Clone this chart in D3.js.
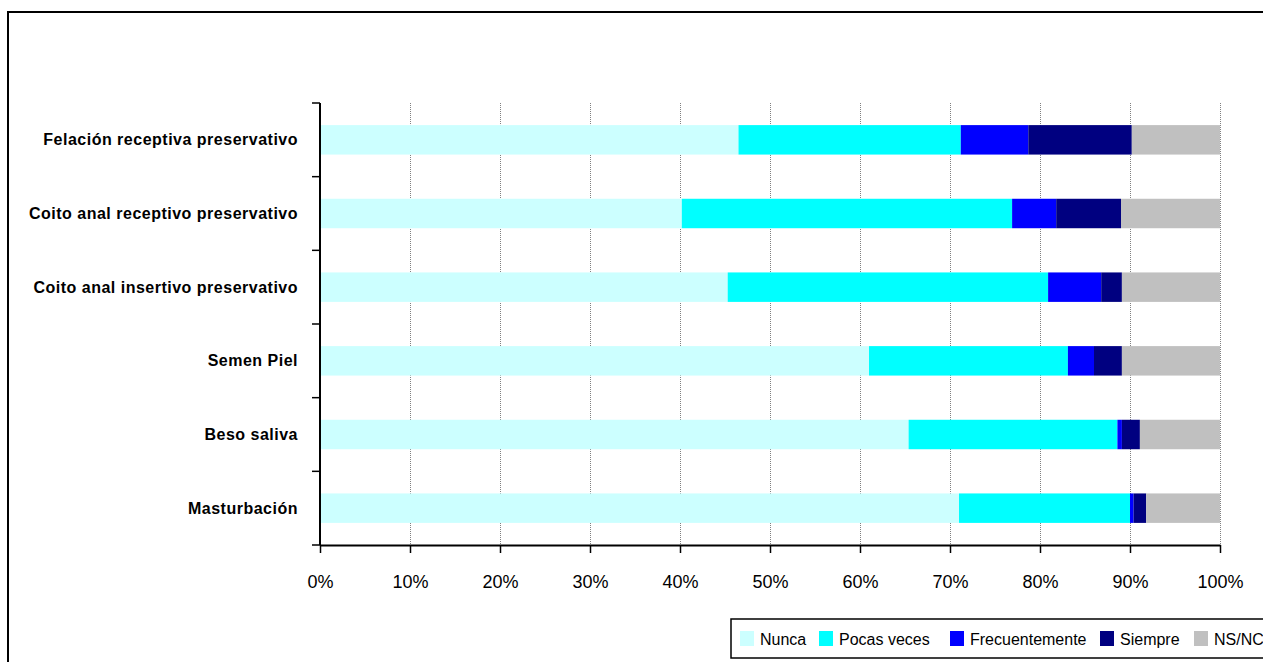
<!DOCTYPE html>
<html>
<head>
<meta charset="utf-8">
<script src="https://cdn.jsdelivr.net/npm/d3@7"></script>
<style>
  html, body { margin: 0; padding: 0; background: #fff; }
  svg { display: block; font-family: Arial, "Liberation Sans", sans-serif; }
</style>
</head>
<body>
<svg id="chart" width="1263" height="662"></svg>
<script>
// Categories, top to bottom
const categories = [
  "Felación receptiva preservativo",
  "Coito anal receptivo preservativo",
  "Coito anal insertivo preservativo",
  "Semen Piel",
  "Beso saliva",
  "Masturbación"
];
const seriesNames = ["Nunca", "Pocas veces", "Frecuentemente", "Siempre", "NS/NC"];
const seriesColors = ["#ccffff", "#00ffff", "#0000ff", "#000080", "#c0c0c0"];

// Percentages per category, one array per response
const nunca          = [46.5, 40.2, 45.3, 61.0, 65.4, 71.0];
const pocasVeces     = [24.7, 36.7, 35.6, 22.1, 23.2, 19.0];
const frecuentemente = [7.5,  4.9,  5.9,  2.9,  0.5,  0.4];
const siempre        = [11.5, 7.2,  2.3,  3.1,  2.0,  1.4];
const nsnc           = [9.8,  11.0, 10.9, 10.9, 8.9,  8.2];
const tickValues = [0, 10, 20, 30, 40, 50, 60, 70, 80, 90, 100];

const rows = categories.map((c, i) => ({
  category: c,
  "Nunca": nunca[i],
  "Pocas veces": pocasVeces[i],
  "Frecuentemente": frecuentemente[i],
  "Siempre": siempre[i],
  "NS/NC": nsnc[i]
}));

const svg = d3.select("#chart");

// Outer frame
svg.append("rect")
  .attr("x", 8).attr("y", 12)
  .attr("width", 1270).attr("height", 660)
  .attr("fill", "none").attr("stroke", "#000").attr("stroke-width", 2);

const plot = { left: 320, right: 1220, top: 103, bottom: 545 };

const x = d3.scaleLinear().domain([0, 100]).range([plot.left, plot.right]);
const y = d3.scaleBand().domain(categories).range([plot.top, plot.bottom]).paddingInner(0.6).paddingOuter(0.3);

// Vertical gridlines
svg.append("g")
  .selectAll("line")
  .data(tickValues.slice(1))
  .join("line")
  .attr("x1", d => x(d) + 0.5).attr("x2", d => x(d) + 0.5)
  .attr("y1", plot.top).attr("y2", plot.bottom)
  .attr("stroke", "#808080").attr("stroke-width", 1)
  .attr("stroke-dasharray", "1,1");

// Stacked bars
const stack = d3.stack().keys(seriesNames);
const stacked = stack(rows);

svg.append("g")
  .selectAll("g")
  .data(stacked)
  .join("g")
  .attr("fill", (d, i) => seriesColors[i])
  .selectAll("rect")
  .data(d => d)
  .join("rect")
  .attr("x", d => x(d[0]))
  .attr("width", d => x(d[1]) - x(d[0]))
  .attr("y", d => y(d.data.category))
  .attr("height", y.bandwidth());

// Y axis: line with ticks at band boundaries
const yAxisG = svg.append("g");
yAxisG.append("line")
  .attr("x1", plot.left).attr("x2", plot.left)
  .attr("y1", plot.top).attr("y2", plot.bottom)
  .attr("stroke", "#000").attr("stroke-width", 2);
const step = (plot.bottom - plot.top) / categories.length;
yAxisG.selectAll("line.tick")
  .data(d3.range(categories.length + 1))
  .join("line")
  .attr("class", "tick")
  .attr("x1", plot.left - 8).attr("x2", plot.left)
  .attr("y1", d => plot.top + d * step).attr("y2", d => plot.top + d * step)
  .attr("stroke", "#000").attr("stroke-width", 1.5);
yAxisG.selectAll("text")
  .data(categories)
  .join("text")
  .attr("x", 298)
  .attr("y", d => y(d) + y.bandwidth() / 2)
  .attr("text-anchor", "end")
  .attr("dominant-baseline", "central")
  .attr("font-size", 16)
  .attr("font-weight", "bold")
  .attr("letter-spacing", 0.5)
  .attr("fill", "#000")
  .text(d => d);

// X axis
const xAxis = d3.axisBottom(x)
  .tickValues(tickValues)
  .tickFormat(d => d + "%")
  .tickSize(8)
  .tickSizeOuter(0);
const xAxisG = svg.append("g")
  .attr("transform", `translate(0,${plot.bottom})`)
  .call(xAxis);
xAxisG.select(".domain").attr("stroke", "#000").attr("stroke-width", 2);
xAxisG.selectAll(".tick line").attr("stroke", "#000").attr("stroke-width", 1.5);
xAxisG.selectAll(".tick text")
  .attr("y", 37)
  .attr("dy", "0.35em")
  .attr("font-size", 18)
  .attr("font-family", "Arial, 'Liberation Sans', sans-serif")
  .attr("fill", "#000");

// Legend
const legend = svg.append("g");
legend.append("rect")
  .attr("x", 731).attr("y", 619)
  .attr("width", 560).attr("height", 39)
  .attr("fill", "#fff").attr("stroke", "#000").attr("stroke-width", 1.5);
const legendX = [740, 819, 950, 1100, 1194];
seriesNames.forEach((name, i) => {
  legend.append("rect")
    .attr("x", legendX[i]).attr("y", 631)
    .attr("width", 14).attr("height", 15)
    .attr("fill", seriesColors[i]);
  legend.append("text")
    .attr("x", legendX[i] + 20).attr("y", 639)
    .attr("dominant-baseline", "central")
    .attr("font-size", 16)
    .attr("fill", "#000")
    .text(name);
});
</script>
</body>
</html>
